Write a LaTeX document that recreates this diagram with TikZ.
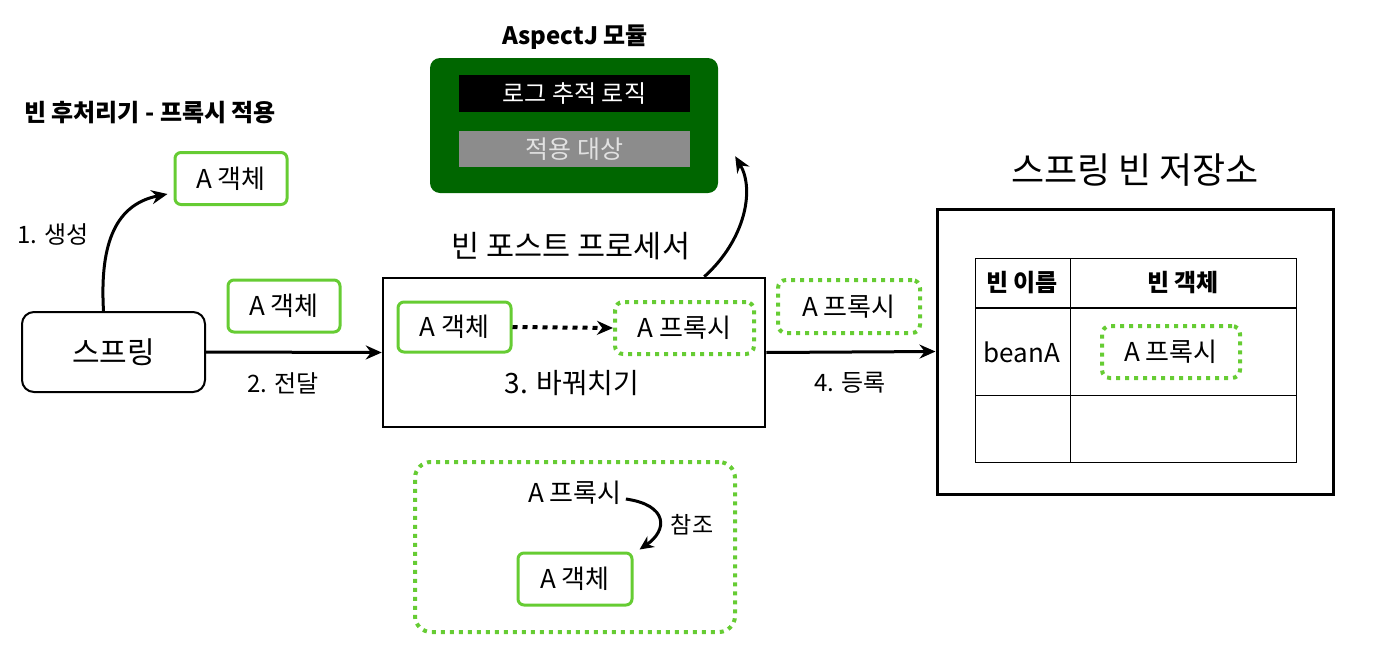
\documentclass[tikz,border=0pt]{standalone}
\usepackage{fontspec}
\setmainfont{Noto Sans CJK KR}
\usetikzlibrary{arrows.meta}
\definecolor{grn}{RGB}{102,204,51}
\definecolor{dgreen}{RGB}{0,102,0}
\definecolor{gbox}{RGB}{140,140,140}
\definecolor{gtext}{RGB}{225,225,225}
\newcommand{\fs}[1]{\fontsize{#1}{#1}\selectfont}
\begin{document}
\begin{tikzpicture}[x=1pt,y=-1pt,
  solidbox/.style={draw=grn, line width=3pt, rounded corners=6pt, minimum width=112pt, minimum height=52pt, inner sep=0pt, font=\fs{26}},
  dotbox/.style={draw=grn, line width=4pt, dash pattern=on 4pt off 5pt, rounded corners=8pt, minimum width=140pt, minimum height=52pt, inner sep=0pt, font=\fs{26}},
  arr/.style={-{Stealth[length=16pt,width=14pt]}, line width=3pt},
  lbl/.style={font=\fs{24}, inner sep=0pt},
  hdr/.style={font=\fs{24}\bfseries, inner sep=0pt}
]
\useasboundingbox (0,0) rectangle (1374,659);

% title
\node[hdr] (title) at (150,113) {빈 후처리기 - 프록시 적용};

% spring
\node[draw, line width=2pt, rounded corners=12pt, minimum width=183pt, minimum height=80pt, font=\fs{30}] (spring) at (113.5,352) {스프링};
\node[solidbox] (a0) at (231,178.5) {A 객체};
\draw[arr] ([xshift=-10pt]spring.north) .. controls (100,250) and (112,205) .. ([xshift=-6pt,yshift=12pt]a0.south west);
\node[lbl] (l1) at (53,234) {1. 생성};

\node[solidbox] (a2) at (284,306) {A 객체};
\node[lbl] (l2) at (283,383) {2. 전달};

% bean post processor
\node[draw, line width=2.5pt, minimum width=382pt, minimum height=149pt] (pp) at (574,352.5) {};
\node[font=\fs{30.5}, inner sep=0pt] (pptitle) at (571,246) {빈 포스트 프로세서};
\node[font=\fs{28}, inner sep=0pt] (l3) at (572,383) {3. 바꿔치기};
\node[solidbox, minimum width=113pt, minimum height=50pt] (a1) at (454.5,327) {A 객체};
\node[dotbox, minimum width=139pt] (p1) at (684.5,328) {A 프록시};
\draw[line width=4pt, dash pattern=on 5pt off 5pt, -{Stealth[length=16pt,width=14pt]}] (a1.east) -- (p1.west);

\draw[arr] (spring.east) -- (pp.west);

% AspectJ
\node[hdr] (asptitle) at (575,37) {AspectJ 모듈};
\node[fill=dgreen, rounded corners=10pt, minimum width=288pt, minimum height=135pt] (asp) at (574,125.5) {};
\node[fill=black, text=white, minimum width=231pt, minimum height=37pt, inner sep=0pt, font=\fs{24}] (log) at (574.5,93.5) {로그 추적 로직};
\node[fill=gbox, text=gtext, minimum width=231pt, minimum height=36pt, inner sep=0pt, font=\fs{25}] (tgt) at (574.5,149) {적용 대상};
\draw[arr] ([xshift=-62pt]pp.north east) .. controls (745,240) and (755,190) .. ([xshift=17pt,yshift=37pt]asp.south east);

% register
\node[dotbox, minimum width=142pt, minimum height=53pt] (p2) at (849,306.5) {A 프록시};
\node[lbl] (l4) at (850,383) {4. 등록};

% storage
\node[font=\fs{36}, inner sep=0pt] (sttitle) at (1135,170) {스프링 빈 저장소};
\node[draw, line width=3pt, minimum width=396pt, minimum height=285pt] (store) at (1135,351.5) {};
\draw[arr] (pp.east) -- (store.west);

\draw[line width=1pt] (975,258) rectangle (1296,462);
\draw[line width=1.5pt] (975,308) -- (1296,308);
\draw[line width=0.6pt] (975,395) -- (1296,395);
\draw[line width=0.6pt] (1070,258) -- (1070,462);
\node[hdr] (h1) at (1022,283) {빈 이름};
\node[hdr] (h2) at (1183,283) {빈 객체};
\node[font=\fs{26}, inner sep=0pt] (bn) at (1022,352) {beanA};
\node[dotbox, minimum width=138pt] (p3) at (1171,352) {A 프록시};

% bottom reference box
\node[draw=grn, line width=4pt, dash pattern=on 4pt off 5pt, rounded corners=16pt, minimum width=320pt, minimum height=170pt] (ref) at (575,547) {};
\node[font=\fs{26}, inner sep=0pt] (pt) at (575,493) {A 프록시};
\node[solidbox, minimum width=114pt] (a3) at (575,579) {A 객체};
\draw[line width=3pt, -{Stealth[length=14pt,width=13pt]}] ([xshift=4pt,yshift=-6pt]pt.east) .. controls (668,505) and (668,530) .. ([xshift=6pt,yshift=2pt]a3.north east);
\node[font=\fs{23}, inner sep=0pt] (l5) at (692,525) {참조};
\end{tikzpicture}
\end{document}
